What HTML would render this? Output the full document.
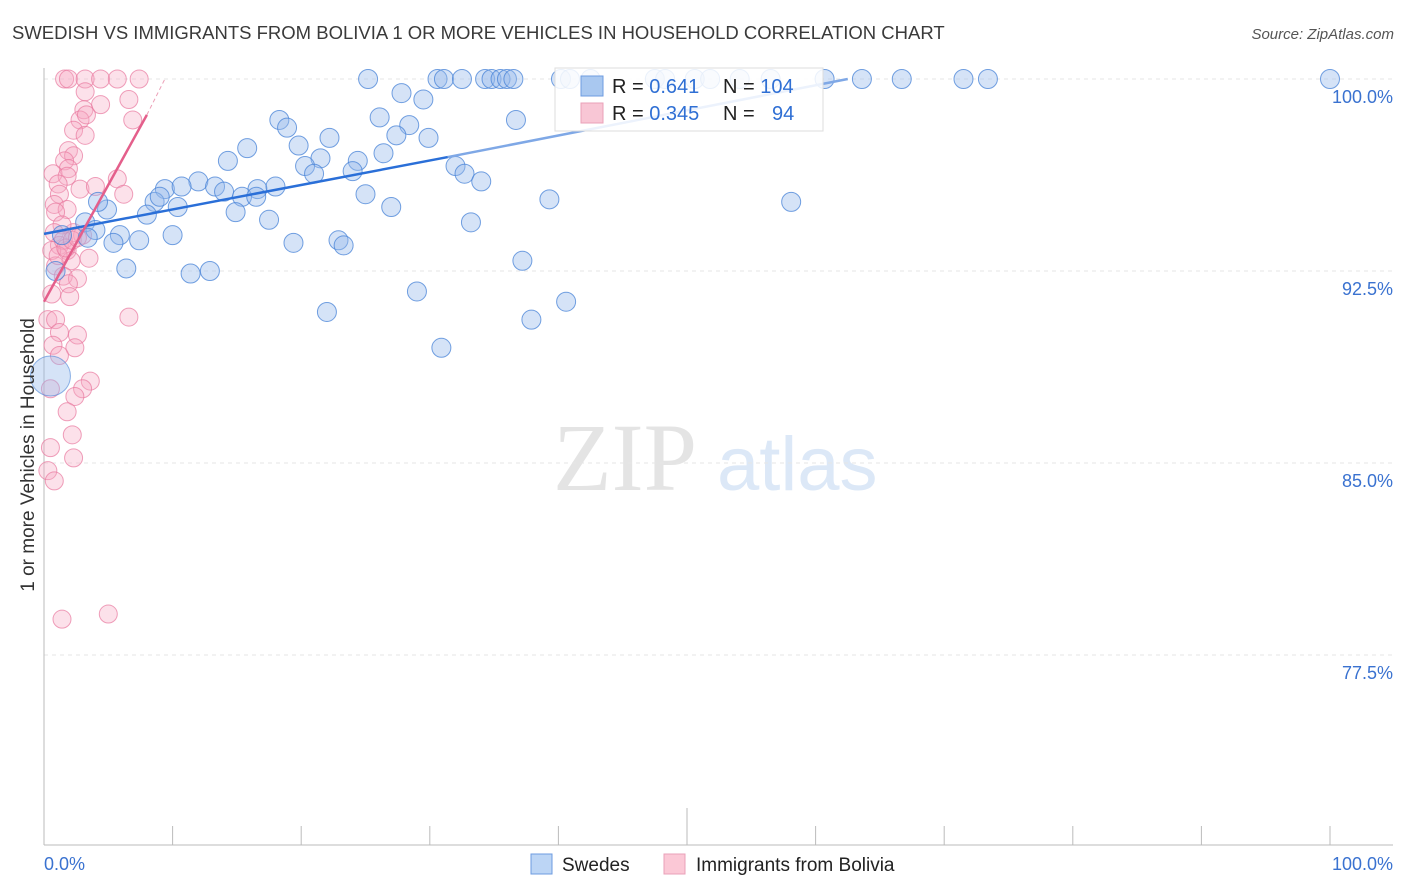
<!DOCTYPE html>
<html><head><meta charset="utf-8"><style>
body{margin:0;background:#fff;font-family:"Liberation Sans",sans-serif;}
svg{display:block}
</style></head><body>
<svg id="chart" width="1406" height="892">
<text x="12" y="39" font-size="18.5" fill="#3a3a3a">SWEDISH VS IMMIGRANTS FROM BOLIVIA 1 OR MORE VEHICLES IN HOUSEHOLD CORRELATION CHART</text>
<text x="1394" y="39" font-size="15" fill="#555" font-style="italic" text-anchor="end">Source: ZipAtlas.com</text>
<g>
<text x="553" y="490" font-family="Liberation Serif,serif" font-size="96" fill="#e4e4e4">ZIP</text>
<text x="717" y="490" font-size="76" fill="#dce8f7">atlas</text>
</g>
<g id="grid"></g>
<g id="axes"></g>
<g id="pts"></g>
<g id="trends"></g>
<text x="34" y="455" font-size="19" fill="#333" text-anchor="middle" transform="rotate(-90 34 455)">1 or more Vehicles in Household</text>
<g>
<rect x="555" y="68" width="268" height="63" fill="#fff" fill-opacity="0.85" stroke="#ddd"/>
<rect x="581" y="76" width="22" height="20" fill="#a9c8f0" stroke="#6d9be0"/>
<rect x="581" y="103" width="22" height="20" fill="#f8c6d5" stroke="#eaa0b8"/>
<text x="612" y="93" font-size="20" fill="#222">R = <tspan fill="#2f6fd4">0.641</tspan></text>
<text x="723" y="93" font-size="20" fill="#222">N = <tspan fill="#2f6fd4">104</tspan></text>
<text x="612" y="120" font-size="20" fill="#222">R = <tspan fill="#2f6fd4">0.345</tspan></text>
<text x="723" y="120" font-size="20" fill="#222">N =   <tspan fill="#2f6fd4" x="772">94</tspan></text>
</g>
<g>
<rect x="531" y="854" width="21" height="20" fill="#bcd5f5" stroke="#6d9be0"/>
<text x="562" y="871" font-size="19" fill="#222">Swedes</text>
<rect x="664" y="854" width="21" height="20" fill="#fbc8d6" stroke="#eaa0b8"/>
<text x="696" y="871" font-size="19" fill="#222">Immigrants from Bolivia</text>
</g>
</svg>
<script>
const yTicks=[100,92.5,85,77.5];
const yTickLabels=["100.0%","92.5%","85.0%","77.5%"];
const xTickLabels=["0.0%","100.0%"];
const blueX=[25.2,30.6,31.1,32.5,34.3,34.8,35.5,36.0,36.5,40.2,40.9,42.5,47.5,48.3,50.6,51.8,54.1,56.5,60.7,63.6,66.7,71.5,73.4,100,
27.8,29.5,18.3,26.1,18.9,28.4,19.8,22.2,27.4,29.9,15.8,14.3,26.4,21.5,24.4,20.3,32.0,21.0,24.0,32.7,34.0,36.7,12.0,13.3,9.4,10.7,14.0,16.6,18.0,15.4,16.5,25.0,27.0,39.3,58.1,8.6,9.0,10.4,4.9,8.0,14.9,4.2,3.2,4.0,17.5,33.2,10.0,5.9,7.4,5.4,3.4,19.4,22.9,23.3,37.2,6.4,11.4,12.9,29.0,22.0,40.6,37.9,30.9,1.4,0.9];
const blueY=[100,100,100,100,100,100,100,100,100,100,100,100,100,100,100,100,100,100,100,100,100,100,100,100,
99.45,99.2,98.4,98.5,98.1,98.2,97.4,97.7,97.8,97.7,97.3,96.8,97.1,96.9,96.8,96.6,96.6,96.3,96.4,96.3,96.0,98.4,96.0,95.8,95.7,95.8,95.6,95.7,95.8,95.4,95.4,95.5,95.0,95.3,95.2,95.2,95.4,95.0,94.9,94.7,94.8,95.2,94.4,94.1,94.5,94.4,93.9,93.9,93.7,93.6,93.8,93.6,93.7,93.5,92.9,92.6,92.4,92.5,91.7,90.9,91.3,90.6,89.5,93.9,92.5];
const blueBigX=[0.5], blueBigY=[88.4];
const pinkX=[1.6,1.9,3.2,4.4,5.7,7.4,3.2,6.6,4.4,3.1,6.9,2.8,3.3,2.3,3.2,1.9,2.3,1.6,1.9,0.7,1.8,5.7,2.8,4.0,6.2,1.1,1.2,0.8,1.8,0.9,2.3,3.0,1.4,0.8,1.2,1.8,3.5,0.6,0.9,2.1,1.5,2.6,1.9,2.0,0.6,0.3,0.9,1.2,2.6,0.7,2.4,1.2,3.6,3.0,0.5,2.4,1.8,2.2,0.5,2.3,0.3,0.8,5.0,1.4,6.6,1.5,1.1,1.7,2.2,2.6];
const pinkY=[100,100,100,100,100,100,99.5,99.2,99.0,98.8,98.4,98.4,98.6,98.0,97.8,97.2,97.0,96.8,96.5,96.3,96.2,96.1,95.7,95.8,95.5,95.9,95.5,95.1,94.9,94.8,94.0,93.9,94.3,94.0,93.5,93.3,93.0,93.3,92.7,92.9,92.3,92.2,92.0,91.5,91.6,90.6,90.6,90.1,90.0,89.6,89.5,89.2,88.2,87.9,87.9,87.6,87.0,86.1,85.6,85.2,84.7,84.3,79.1,78.9,90.7,93.7,93.1,93.4,93.7,93.8];
const blueTrendX=[0,31.4,62.5], blueTrendY=[93.95,96.95,100];
const pinkTrendX=[0,8.0,9.4], pinkTrendY=[91.3,98.6,100];

const NS="http://www.w3.org/2000/svg";
const X0=44,X1=1330,Y100=79,PXY=25.6;
const sx=v=>X0+(X1-X0)*v/100;
const sy=v=>Y100+(100-v)*PXY;
function mk(tag,attrs,parent){const e=document.createElementNS(NS,tag);for(const k in attrs)e.setAttribute(k,attrs[k]);parent.appendChild(e);return e;}
const grid=document.getElementById('grid'),axes=document.getElementById('axes'),pts=document.getElementById('pts'),tr=document.getElementById('trends');
yTicks.forEach((t,i)=>{
  const l=mk('line',{x1:44,x2:1393,y1:sy(t),y2:sy(t),stroke:'#e6e6e6','stroke-dasharray':'4,4'},grid);
  
  
  const tx=mk('text',{x:1393,y:sy(t)+24,'font-size':18,fill:'#3a72d0','text-anchor':'end'},axes);
  tx.textContent=yTickLabels[i];
  
  
});
mk('line',{x1:44,x2:44,y1:68,y2:845,stroke:'#bbb'},axes);
mk('line',{x1:44,x2:1393,y1:845,y2:845,stroke:'#bbb'},axes);
for(let i=0;i<=10;i++){
  const tk=mk('line',{x1:sx(i*10),x2:sx(i*10),y1:i==5?808:826,y2:845,stroke:'#bbb'},axes);
  
  
}
const xl0=mk('text',{x:44,y:870,'font-size':18,fill:'#3a72d0'},axes);xl0.textContent=xTickLabels[0];


const xl1=mk('text',{x:1393,y:870,'font-size':18,fill:'#3a72d0','text-anchor':'end'},axes);xl1.textContent=xTickLabels[1];



pinkX.forEach((v,i)=>{
  const c=mk('circle',{cx:sx(v),cy:sy(pinkY[i]),r:9,fill:'rgba(246,170,196,0.35)',stroke:'rgba(232,120,158,0.7)','stroke-width':1},pts);
  
  
});
blueX.forEach((v,i)=>{
  const c=mk('circle',{cx:sx(v),cy:sy(blueY[i]),r:9.5,fill:'rgba(150,185,235,0.4)',stroke:'rgba(70,130,215,0.75)','stroke-width':1},pts);
  
  
});
blueBigX.forEach((v,i)=>{
  const c=mk('circle',{cx:sx(v),cy:sy(blueBigY[i]),r:20,fill:'rgba(150,185,235,0.4)',stroke:'rgba(70,130,215,0.6)','stroke-width':1},pts);
  
  
});
const bt=mk('line',{x1:sx(blueTrendX[0]),y1:sy(blueTrendY[0]),x2:sx(blueTrendX[1]),y2:sy(blueTrendY[1]),stroke:'#2a6fd8','stroke-width':2.5},tr);


const bt2=mk('line',{x1:sx(blueTrendX[1]),y1:sy(blueTrendY[1]),x2:sx(blueTrendX[2]),y2:sy(blueTrendY[2]),stroke:'#7fa8e6','stroke-width':2.5},tr);


const pt=mk('line',{x1:sx(pinkTrendX[0]),y1:sy(pinkTrendY[0]),x2:sx(pinkTrendX[1]),y2:sy(pinkTrendY[1]),stroke:'#e45f8b','stroke-width':2.5},tr);


const pt2=mk('line',{x1:sx(pinkTrendX[1]),y1:sy(pinkTrendY[1]),x2:sx(pinkTrendX[2]),y2:sy(pinkTrendY[2]),stroke:'#eca0b8','stroke-width':1,'stroke-dasharray':'4,3'},tr);


</script>
</body></html>
